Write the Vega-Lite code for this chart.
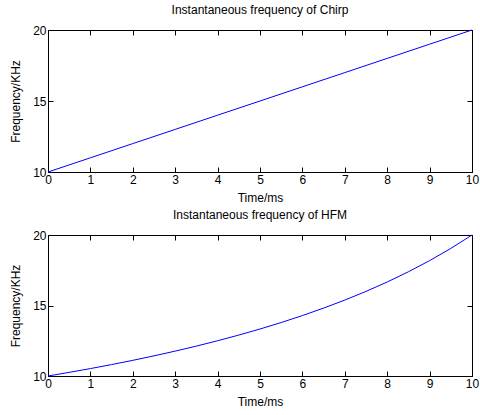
{
  "$schema": "https://vega.github.io/schema/vega-lite/v6.json",
  "background": "white",
  "padding": {"left": 9, "top": 3, "right": 0, "bottom": 0},
  "spacing": 4,
  "datasets": {
    "chirp": [
      {"t": 0, "f": 10}, {"t": 1, "f": 11}, {"t": 2, "f": 12}, {"t": 3, "f": 13}, {"t": 4, "f": 14},
      {"t": 5, "f": 15}, {"t": 6, "f": 16}, {"t": 7, "f": 17}, {"t": 8, "f": 18}, {"t": 9, "f": 19}, {"t": 10, "f": 20}
    ],
    "hfm": [
      {"t": 0, "f": 10}, {"t": 0.5, "f": 10.256}, {"t": 1, "f": 10.526}, {"t": 1.5, "f": 10.811},
      {"t": 2, "f": 11.111}, {"t": 2.5, "f": 11.429}, {"t": 3, "f": 11.765}, {"t": 3.5, "f": 12.121},
      {"t": 4, "f": 12.5}, {"t": 4.5, "f": 12.903}, {"t": 5, "f": 13.333}, {"t": 5.5, "f": 13.793},
      {"t": 6, "f": 14.286}, {"t": 6.5, "f": 14.815}, {"t": 7, "f": 15.385}, {"t": 7.5, "f": 16},
      {"t": 8, "f": 16.667}, {"t": 8.5, "f": 17.391}, {"t": 9, "f": 18.182}, {"t": 9.5, "f": 19.048},
      {"t": 10, "f": 20}
    ]
  },
  "config": {
    "font": "Liberation Sans",
    "view": {"stroke": "black", "strokeWidth": 1},
    "axis": {
      "domainColor": "black",
      "tickColor": "black",
      "tickSize": -5,
      "labelPadding": 7,
      "labelColor": "black",
      "labelFontSize": 12,
      "labelFont": "Liberation Sans",
      "titleFont": "Liberation Sans",
      "titleFontSize": 12,
      "titleFontWeight": "normal",
      "titleColor": "black",
      "grid": false
    },
    "title": {"font": "Liberation Sans", "fontSize": 12, "fontWeight": "normal", "color": "black", "offset": 7}
  },
  "vconcat": [
    {
      "title": "Instantaneous frequency of Chirp",
      "width": 424,
      "height": 142,
      "data": {"name": "chirp"},
      "layer": [
        {
          "mark": {"type": "line", "color": "blue", "strokeWidth": 1},
          "encoding": {
            "x": {"field": "t", "type": "quantitative", "scale": {"domain": [0, 10], "nice": false},
                  "axis": {"title": "Time/ms", "values": [0,1,2,3,4,5,6,7,8,9,10], "titlePadding": 7, "labelFlush": false}},
            "y": {"field": "f", "type": "quantitative", "scale": {"domain": [10, 20], "nice": false, "zero": false},
                  "axis": {"title": "Frequency/KHz", "values": [10, 15, 20], "titlePadding": 10, "labelFlush": false}}
          }
        },
        {
          "mark": {"type": "line", "opacity": 0},
          "encoding": {
            "x": {"field": "t", "type": "quantitative", "axis": {"orient": "top", "labels": false, "title": null, "values": [0,1,2,3,4,5,6,7,8,9,10]}},
            "y": {"field": "f", "type": "quantitative", "axis": {"orient": "right", "labels": false, "title": null, "values": [10, 15, 20]}}
          }
        }
      ],
      "resolve": {"axis": {"x": "independent", "y": "independent"}}
    },
    {
      "title": "Instantaneous frequency of HFM",
      "width": 424,
      "height": 141,
      "data": {"name": "hfm"},
      "layer": [
        {
          "mark": {"type": "line", "color": "blue", "strokeWidth": 1},
          "encoding": {
            "x": {"field": "t", "type": "quantitative", "scale": {"domain": [0, 10], "nice": false},
                  "axis": {"title": "Time/ms", "values": [0,1,2,3,4,5,6,7,8,9,10], "titlePadding": 7, "labelFlush": false}},
            "y": {"field": "f", "type": "quantitative", "scale": {"domain": [10, 20], "nice": false, "zero": false},
                  "axis": {"title": "Frequency/KHz", "values": [10, 15, 20], "titlePadding": 10, "labelFlush": false}}
          }
        },
        {
          "mark": {"type": "line", "opacity": 0},
          "encoding": {
            "x": {"field": "t", "type": "quantitative", "axis": {"orient": "top", "labels": false, "title": null, "values": [0,1,2,3,4,5,6,7,8,9,10]}},
            "y": {"field": "f", "type": "quantitative", "axis": {"orient": "right", "labels": false, "title": null, "values": [10, 15, 20]}}
          }
        }
      ],
      "resolve": {"axis": {"x": "independent", "y": "independent"}}
    }
  ]
}
